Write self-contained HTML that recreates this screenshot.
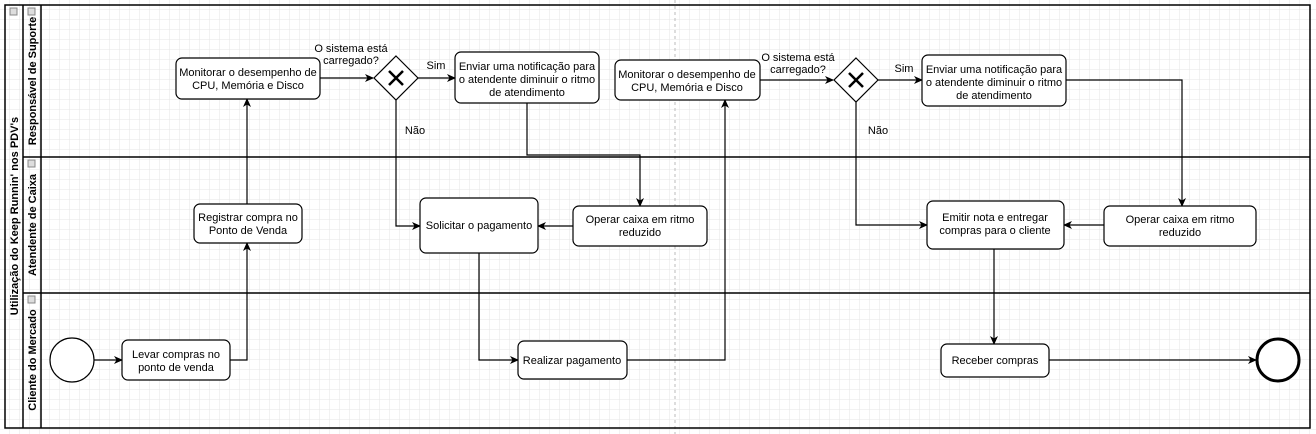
<!DOCTYPE html><html><head><style>body{margin:0;background:#fff}svg{display:block;font-family:"Liberation Sans",sans-serif}</style></head><body>
<svg width="1316" height="434" viewBox="0 0 1316 434" xmlns="http://www.w3.org/2000/svg">
<defs>
<pattern id="g" width="10" height="10" patternUnits="userSpaceOnUse"><path d="M10 0V10H0" fill="none" stroke="#e6e6e6" stroke-width="1"/></pattern>
<marker id="a" markerWidth="10" markerHeight="10" refX="8" refY="5" orient="auto" markerUnits="userSpaceOnUse"><path d="M0 1L9 5L0 9L2.5 5Z" fill="#000"/></marker>
</defs>
<rect width="1316" height="434" fill="url(#g)"/>
<line x1="675" y1="0" x2="675" y2="434" stroke="#bbb" stroke-dasharray="3,3"/>
<g fill="none" stroke="#000" stroke-width="1.5">
<rect x="5" y="5" width="1305" height="423" fill="none"/>
<line x1="23" y1="5" x2="23" y2="428"/><line x1="41" y1="5" x2="41" y2="428"/>
<line x1="23" y1="157" x2="1310" y2="157"/><line x1="23" y1="293" x2="1310" y2="293"/>
</g>
<g fill="#ddd" stroke="#888" stroke-width="1"><rect x="10" y="8" width="7" height="7"/><rect x="28" y="8" width="7" height="7"/><rect x="28" y="160" width="7" height="7"/><rect x="28" y="296" width="7" height="7"/></g>
<g font-size="11" font-weight="bold" text-anchor="middle">
<text transform="translate(18,216) rotate(-90)">Utilização do Keep Runnin' nos PDV's</text>
<text transform="translate(36,81) rotate(-90)">Responsável de Suporte</text>
<text transform="translate(36,225) rotate(-90)">Atendente de Caixa</text>
<text transform="translate(36,360) rotate(-90)">Cliente do Mercado</text>
</g>
<g fill="none" stroke="#000" stroke-width="1.2">
<path d="M320 78H373" marker-end="url(#a)"/>
<path d="M418 78H455" marker-end="url(#a)"/>
<path d="M396 100V226H420" marker-end="url(#a)"/>
<path d="M527 103V155H640V206" marker-end="url(#a)"/>
<path d="M573 226H538" marker-end="url(#a)"/>
<path d="M247 204V99" marker-end="url(#a)"/>
<path d="M94 360H122" marker-end="url(#a)"/>
<path d="M230 360H247V243" marker-end="url(#a)"/>
<path d="M479 253V360H518" marker-end="url(#a)"/>
<path d="M627 360H725V100" marker-end="url(#a)"/>
<path d="M760 80H833" marker-end="url(#a)"/>
<path d="M878 80H922" marker-end="url(#a)"/>
<path d="M856 102V225H927" marker-end="url(#a)"/>
<path d="M1066 80H1182V206" marker-end="url(#a)"/>
<path d="M1104 225H1064" marker-end="url(#a)"/>
<path d="M994 249V344" marker-end="url(#a)"/>
<path d="M1049 360H1256" marker-end="url(#a)"/>
</g>
<g fill="#fff" stroke="#000" stroke-width="1.2">
<rect x="176" y="58" width="144" height="41" rx="6"/>
<rect x="455" y="52" width="144" height="51" rx="6"/>
<rect x="420" y="198" width="118" height="55" rx="6"/>
<rect x="573" y="206" width="134" height="40" rx="6"/>
<rect x="194" y="204" width="108" height="39" rx="6"/>
<rect x="122" y="340" width="108" height="40" rx="6"/>
<rect x="518" y="341" width="109" height="38" rx="6"/>
<rect x="615" y="60" width="145" height="40" rx="6"/>
<rect x="922" y="55" width="144" height="51" rx="6"/>
<rect x="927" y="201" width="137" height="48" rx="6"/>
<rect x="1104" y="206" width="152" height="40" rx="6"/>
<rect x="941" y="344" width="108" height="33" rx="6"/>
<circle cx="72" cy="360" r="22"/>
<circle cx="1278" cy="360" r="21" stroke-width="3"/>
<path d="M396 56L418 78L396 100L374 78Z"/>
<path d="M856 58L878 80L856 102L834 80Z"/>
</g>
<g stroke="#000" stroke-width="2.5"><path d="M389 71L403 85M403 71L389 85"/><path d="M849 73L863 87M863 73L849 87"/></g>
<g font-size="11" text-anchor="middle" fill="#000">
<text x="248" y="76">Monitorar o desempenho de</text><text x="248" y="89">CPU, Memória e Disco</text>
<text x="527" y="70">Enviar uma notificação para</text><text x="527" y="83">o atendente diminuir o ritmo</text><text x="527" y="96">de atendimento</text>
<text x="479" y="229">Solicitar o pagamento</text>
<text x="640" y="223">Operar caixa em ritmo</text><text x="640" y="236">reduzido</text>
<text x="248" y="221">Registrar compra no</text><text x="248" y="234">Ponto de Venda</text>
<text x="176" y="358">Levar compras no</text><text x="176" y="371">ponto de venda</text>
<text x="572" y="364">Realizar pagamento</text>
<text x="687" y="78">Monitorar o desempenho de</text><text x="687" y="91">CPU, Memória e Disco</text>
<text x="994" y="73">Enviar uma notificação para</text><text x="994" y="86">o atendente diminuir o ritmo</text><text x="994" y="99">de atendimento</text>
<text x="995" y="221">Emitir nota e entregar</text><text x="995" y="234">compras para o cliente</text>
<text x="1180" y="223">Operar caixa em ritmo</text><text x="1180" y="236">reduzido</text>
<text x="995" y="364">Receber compras</text>
<text x="351" y="52">O sistema está</text><text x="351" y="64">carregado?</text>
<text x="798" y="61">O sistema está</text><text x="798" y="73">carregado?</text>
<text x="436" y="69">Sim</text><text x="904" y="72">Sim</text>
<text x="415" y="134">Não</text><text x="878" y="134">Não</text>
</g>
</svg></body></html>
